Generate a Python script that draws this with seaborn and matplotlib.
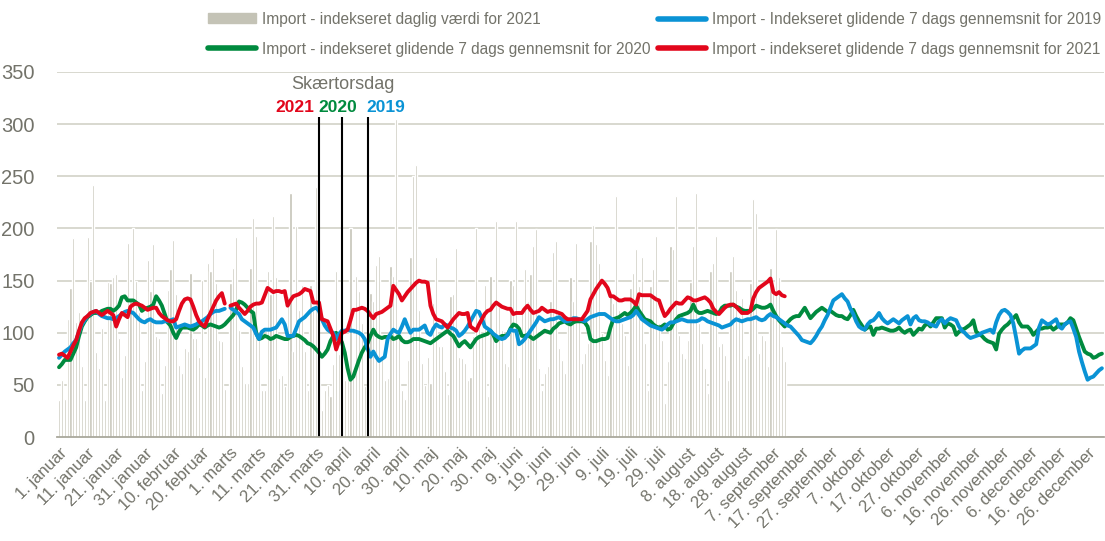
import numpy as np
import pandas as pd
import seaborn as sns
import matplotlib.pyplot as plt
from matplotlib.lines import Line2D
from matplotlib.patches import Patch

nan = np.nan

## Tick labels (every 10th day, leap-year calendar)
tick_labels = ["1. januar", "11. januar", "21. januar", "31. januar", "10. februar", "20. februar",
               "1. marts", "11. marts", "21. marts", "31. marts", "10. april", "20. april",
               "30. april", "10. maj", "20. maj", "30. maj", "9. juni", "19. juni", "29. juni",
               "9. juli", "19. juli", "29. juli", "8. august", "18. august", "28. august",
               "7. september", "17. september", "27. september", "7. oktober", "17. oktober",
               "27. oktober", "6. november", "16. november", "26. november", "6. december",
               "16. december", "26. december"]

## Import 2021 - daily index (bars), 1 Jan .. ~11 Sep, no 29 Feb
daily_2021 = [36, 55, 37, 113, 143, 191, 110, 120, 68, 36, 192, 150, 242, 82, 66, 105, 36, 149, 148, 153,
              156, 95, 58, 79, 186, 132, 200, 150, 120, 45, 73, 170, 140, 185, 97, 95, 42, 69, 141, 161,
              189, 137, 69, 61, 85, 83, 157, 95, 95, 77, 151, 58, 167, 159, 181, 148, 93, 92, 46, nan,
              148, 162, 192, 103, 68, 52, 52, 162, 210, 193, 97, 45, 45, 159, 137, 212, 153, 57, 60, 49,
              135, 234, 83, 202, 122, 146, 83, 45, 146, 122, 240, 60, 26, 45, 50, 39, 70, 159, 80, 138,
              55, 55, 200, 58, 154, 140, 109, 49, 60, 138, 130, 165, 174, 77, 55, 57, 164, 154, 305, 106,
              45, 37, 74, 173, 250, 261, 122, 71, 50, 77, 52, 129, 173, 87, 87, 63, 41, 135, 137, 181,
              77, 76, 71, 55, 58, 97, 200, 113, 97, 146, 39, 154, 97, 207, 125, 103, 71, 68, 151, 146,
              207, 58, 125, 161, 130, 156, 183, 199, 66, 45, 61, 68, 130, 177, 188, 85, 74, 61, 116, 153,
              130, 186, 116, 71, 81, 90, 188, 203, 185, 167, 100, 74, 60, 135, 129, 231, 122, 109, 98, 69,
              143, 157, 180, 145, 173, 90, 45, 145, 161, 193, 109, 93, 33, 73, 183, 180, 231, 98, 81, 76,
              93, 149, 183, 234, 109, 90, 66, 42, 159, 167, 193, 87, 90, 79, 55, 159, 174, 141, 116, 133,
              76, 79, 148, 228, 215, 81, 98, 93, 68, 162, 140, 199, 153, 87, 73]

## 7-day moving average 2021
avg_2021 = [79, 80, 78, 76, 82, 88, 93, 102, 110, 114, 116, 119, 120, 121, 119, 117, 119, 121, 119, 117,
            106, 113, 119, 117, 115, 125, 127, 128, 127, 126, 124, 122, 123, 124, 124, 119, 116, 114, 112, 111,
            111, 113, 121, 128, 132, 133, 132, 125, 117, 111, 108, 106, 113, 119, 125, 131, 135, 138, 128, nan,
            126, 127, 128, 124, 121, 118, 121, 125, 127, 128, 128, 129, 136, 143, 141, 139, 140, 140, 139, 140,
            126, 131, 135, 136, 137, 139, 142, 141, 140, 129, 129, 129, 113, 112, 111, 104, 97, 84, 92, 100,
            101, 103, 112, 122, 122, 123, 124, 123, 121, 117, 114, 118, 119, 120, 122, 124, 126, 145, 141, 137,
            131, 135, 139, 142, 145, 148, 150, 149, 149, 148, 126, 118, 113, 112, 111, 108, 105, 109, 113, 116,
            119, 118, 118, 119, 106, 104, 102, 108, 113, 118, 121, 122, 126, 129, 127, 125, 124, 123, 123, 118,
            119, 119, 119, 123, 126, 122, 119, 120, 121, 124, 122, 120, 121, 121, 120, 119, 118, 115, 113, 113,
            113, 113, 113, 113, 117, 121, 132, 137, 142, 146, 150, 147, 143, 135, 135, 133, 131, 131, 132, 132,
            132, 130, 127, 137, 136, 136, 136, 136, 134, 132, 131, 123, 116, 119, 123, 126, 129, 128, 128, 131,
            134, 133, 131, 131, 132, 133, 134, 132, 129, 123, 120, 118, 121, 124, 126, 127, 127, 125, 122, 119,
            119, 119, 121, 133, 139, 143, 145, 147, 149, 152, 139, 137, 139, 136, 135]

## 7-day moving average 2020 (leap year, full year)
avg_2020 = [67, 70, 74, 74, 74, 80, 86, 97, 106, 111, 115, 117, 119, 119, 119, 121, 122, 123, 123, 121,
            123, 126, 134, 135, 131, 131, 131, 129, 127, 121, 123, 124, 125, 127, 135, 131, 126, 118, 110, 107,
            100, 95, 101, 105, 105, 105, 104, 103, 105, 108, 107, 105, 107, 108, 107, 106, 105, 106, 108, 111,
            114, 117, 122, 130, 129, 127, 124, 121, 119, 100, 94, 95, 97, 96, 94, 95, 97, 96, 95, 94,
            94, 96, 97, 98, 97, 95, 93, 90, 89, 87, 84, 81, 77, 80, 84, 92, 97, 100, 96, 91,
            81, 66, 55, 58, 66, 74, 81, 86, 90, 97, 103, 98, 96, 95, 96, 96, 97, 94, 95, 97,
            93, 91, 91, 92, 94, 94, 94, 93, 92, 91, 90, 92, 94, 96, 98, 100, 102, 99, 97, 92,
            87, 90, 92, 89, 86, 90, 94, 96, 97, 98, 99, 102, 98, 92, 95, 97, 97, 98, 104, 108,
            107, 104, 97, 97, 98, 96, 94, 96, 98, 100, 102, 101, 100, 104, 106, 109, 110, 111, 109, 108,
            110, 111, 111, 111, 110, 106, 94, 92, 92, 93, 94, 94, 95, 105, 113, 114, 115, 117, 119, 117,
            119, 122, 126, 121, 117, 113, 112, 111, 108, 106, 105, 106, 108, 103, 104, 109, 113, 116, 117, 118,
            119, 121, 127, 121, 119, 119, 120, 121, 120, 119, 118, 119, 124, 126, 126, 126, 127, 125, 124, 122,
            121, 121, 121, 123, 126, 125, 124, 124, 125, 127, 121, 116, 112, 109, 106, 110, 113, 115, 116, 116,
            120, 124, 119, 114, 117, 120, 122, 124, 122, 120, 121, 119, 117, 116, 116, 114, 113, 117, 122, 116,
            111, 107, 103, 105, 106, 98, 104, 104, 105, 104, 103, 102, 102, 103, 105, 102, 100, 102, 103, 98,
            101, 104, 103, 107, 109, 106, 110, 114, 114, 114, 105, 109, 108, 106, 98, 101, 103, 104, 106, 108,
            112, 101, 99, 97, 94, 92, 91, 90, 84, 99, 103, 106, 108, 111, 114, 117, 110, 106, 106, 106,
            103, 98, 101, 104, 104, 105, 105, 106, 103, 105, 108, 108, 108, 110, 114, 112, 104, 96, 89, 82,
            80, 79, 76, 77, 79, 80]

## 7-day moving average 2019 (no 29 Feb)
avg_2019 = [76, 79, 82, 84, 86, 90, 93, 101, 108, 112, 116, 118, 120, 121, 118, 116, 115, 114, 114, 113,
            114, 116, 118, 120, 121, 120, 119, 116, 113, 111, 110, 112, 113, 111, 110, 110, 110, 111, 111, 112,
            113, 105, 106, 107, 108, 107, 106, 107, 108, 110, 111, 113, 115, 118, 120, 121, 121, 122, 123, nan,
            124, 122, 120, 118, 113, 111, 109, 107, 105, 99, 94, 101, 103, 103, 103, 104, 105, 109, 113, 108,
            97, 97, 97, 104, 111, 113, 115, 118, 121, 123, 124, 121, 113, 107, 103, 101, 100, 94, 99, 102,
            102, 103, 102, 102, 101, 100, 98, 94, 85, 77, 82, 77, 73, 75, 77, 94, 99, 103, 101, 100,
            106, 113, 106, 100, 103, 103, 103, 105, 107, 100, 98, 104, 108, 106, 105, 108, 107, 105, 104, 102,
            97, 99, 102, 106, 111, 116, 121, 120, 114, 106, 104, 102, 99, 97, 95, 94, 95, 98, 103, 102,
            102, 89, 91, 94, 98, 102, 106, 110, 115, 113, 111, 112, 113, 113, 114, 115, 113, 111, 111, 112,
            114, 114, 113, 112, 111, 113, 115, 116, 117, 118, 118, 118, 116, 114, 112, 111, 111, 112, 113, 114,
            115, 117, 121, 117, 113, 111, 109, 107, 106, 105, 104, 103, 105, 108, 110, 110, 111, 112, 113, 112,
            111, 111, 111, 111, 112, 114, 113, 111, 110, 109, 108, 107, 105, 106, 107, 108, 111, 113, 112, 111,
            112, 113, 113, 114, 115, 113, 112, 113, 116, 118, 116, 115, 113, 111, 109, 107, 106, 103, 100, 97,
            93, 92, 91, 90, 93, 97, 102, 106, 112, 117, 124, 131, 133, 135, 137, 133, 130, 123, 118, 111,
            106, 104, 103, 108, 111, 112, 115, 119, 114, 111, 109, 111, 113, 111, 109, 112, 114, 116, 108, 114,
            116, 112, 111, 111, 110, 108, 107, 106, 111, 113, 109, 112, 114, 113, 112, 106, 102, 100, 97, 95,
            96, 97, 98, 100, 101, 102, 103, 100, 110, 117, 121, 122, 120, 117, 109, 95, 80, 83, 85, 85,
            85, 87, 89, 105, 112, 110, 108, 109, 111, 113, 106, 104, 108, 110, 111, 104, 96, 82, 72, 63,
            55, 57, 58, 61, 64, 66]

holy_thursday = {"2021": 91, "2020": 99, "2019": 108}

leg_bar = "Import - indekseret daglig værdi for 2021"
leg_2019 = "Import - Indekseret glidende 7 dags gennemsnit for 2019"
leg_2020 = "Import - indekseret glidende 7 dags gennemsnit for 2020"
leg_2021 = "Import - indekseret glidende 7 dags gennemsnit for 2021"

c_bar = "#c4c3b6"
c_2019 = "#0a93d5"
c_2020 = "#008a3e"
c_2021 = "#e2061b"
c_text = "#73736a"

sns.set_style("white")
plt.rcParams["font.family"] = ["Liberation Sans Narrow", "Liberation Sans", "DejaVu Sans"]

fig = plt.figure(figsize=(11.05, 5.41), dpi=100)
ax = fig.add_axes([0.0516, 0.192, 0.9474, 0.675])

bars = pd.DataFrame({"day": np.arange(len(daily_2021)), "val": daily_2021}).dropna()
sns.barplot(data=bars, x="day", y="val", native_scale=True, width=0.75, color=c_bar,
            saturation=1, ax=ax, zorder=2)


def draw_line(vals, color):
    df = pd.DataFrame({"day": np.arange(len(vals)), "val": vals})
    # split at the missing 29 February so the line has a gap
    gaps = df["val"].isna().cumsum()
    for _, seg in df.groupby(gaps):
        seg = seg.dropna()
        sns.lineplot(data=seg, x="day", y="val", color=color, linewidth=2.8, ax=ax, zorder=4)


draw_line(avg_2020, c_2020)
draw_line(avg_2019, c_2019)
draw_line(avg_2021, c_2021)

# Skaertorsdag markers
ax.vlines(list(holy_thursday.values()), 0, 307, color="black", linewidth=1.5, zorder=5)
ax.text(99.5, 338, "Skærtorsdag", ha="center", va="center", fontsize=13, color=c_text)
ax.text(82.5, 316, "2021", ha="center", va="center", fontsize=12.5, color=c_2021, fontweight="bold")
ax.text(97.6, 316, "2020", ha="center", va="center", fontsize=12.5, color=c_2020, fontweight="bold")
ax.text(114.5, 316, "2019", ha="center", va="center", fontsize=12.5, color=c_2019, fontweight="bold")

ax.set_xlim(-0.7, 365.7)
ax.set_ylim(0, 350)
ax.set_yticks(range(0, 351, 50))
ax.set_xticks(range(0, 361, 10))
ax.set_xticklabels(tick_labels, rotation=45, ha="right", rotation_mode="anchor")
ax.tick_params(axis="x", labelsize=12, colors=c_text, length=0, pad=6)
ax.tick_params(axis="y", labelsize=14.5, colors=c_text, length=0, pad=16)
ax.set_xlabel("")
ax.set_ylabel("")
ax.grid(axis="y", color="#d6d5cc", linewidth=1.3, zorder=0)
ax.set_axisbelow(True)
for s in ["top", "right", "left"]:
    ax.spines[s].set_visible(False)
ax.spines["bottom"].set_color("#a9a89c")
ax.spines["bottom"].set_linewidth(1.3)
ax.spines["bottom"].set_zorder(6)

handles = [Patch(color=c_bar), Line2D([], [], color=c_2020, linewidth=4),
           Line2D([], [], color=c_2019, linewidth=4), Line2D([], [], color=c_2021, linewidth=4)]
labels = [leg_bar, leg_2020, leg_2019, leg_2021]
fig.legend(handles, labels, ncol=2, loc="upper right", bbox_to_anchor=(1.009, 1.004), frameon=False,
           fontsize=11.2, labelcolor=c_text, handlelength=3.1, handleheight=0.6, columnspacing=0.5,
           handletextpad=0.35, labelspacing=0.95)

fig.savefig("out.png", dpi=100)
